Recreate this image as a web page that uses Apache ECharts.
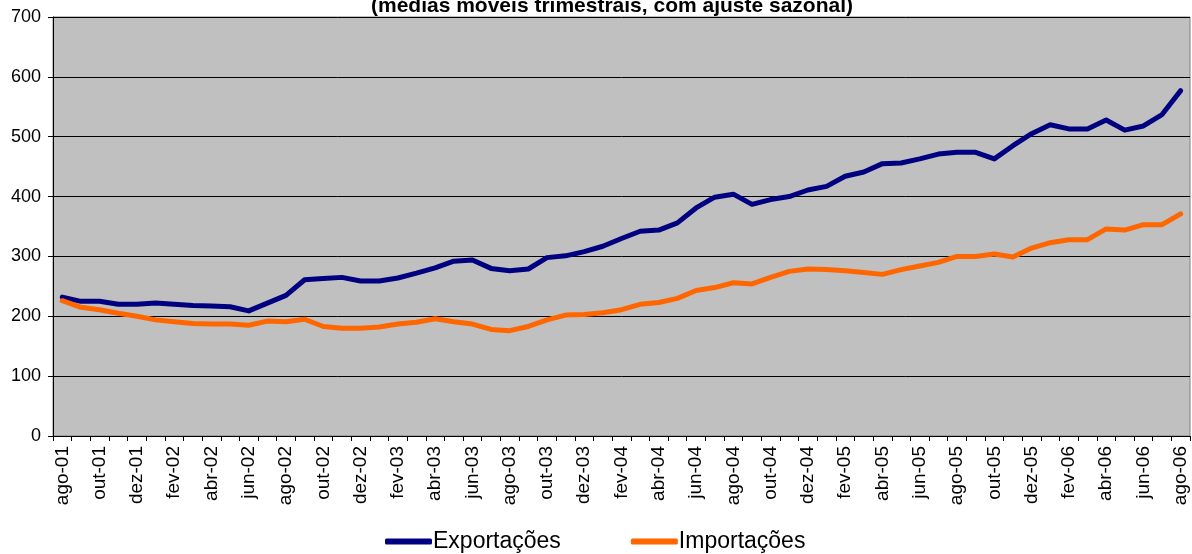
<!DOCTYPE html>
<html>
<head>
<meta charset="utf-8">
<script src="https://cdn.jsdelivr.net/npm/echarts@6/dist/echarts.min.js"></script>
<style>
  html, body { margin: 0; padding: 0; background: #fff; }
  #chart { width: 1192px; height: 554px; }
</style>
</head>
<body>
<div id="chart"></div>
<script>
// months ago-01 .. ago-06
const meses = ['jan', 'fev', 'mar', 'abr', 'mai', 'jun', 'jul', 'ago', 'set', 'out', 'nov', 'dez']
const categories = []
for (let k = 0; k < 61; k++) {
  const m = (7 + k) % 12
  const y = 1 + Math.floor((7 + k) / 12)
  categories.push(meses[m] + '-0' + y)
}

const exportacoes = [
  232, 225, 225, 220, 220, 222, 220, 218, 217, 216,
  209, 222, 235, 261, 263, 265, 259, 259, 264, 272,
  281, 292, 294, 280, 276, 279, 298, 301, 308, 317,
  330, 342, 344, 356, 381, 399, 404, 387, 395, 400,
  411, 417, 434, 441, 455, 456, 463, 471, 474, 474,
  463, 485, 505, 520, 513, 513, 528, 511, 518, 537,
  577
]

const importacoes = [
  226, 215, 211, 205, 200, 194, 191, 188, 187, 187,
  185, 192, 191, 195, 183, 180, 180, 182, 187, 190,
  196, 191, 187, 178, 176, 183, 194, 202, 203, 206,
  211, 220, 223, 230, 243, 248, 256, 254, 265, 275,
  279, 278, 276, 273, 270, 278, 284, 290, 300, 300,
  304, 299, 314, 323, 328, 328, 346, 344, 353, 353,
  371
]

const yTicks = { min: 0, max: 700, interval: 100 }

const chart = echarts.init(document.getElementById('chart'))

chart.setOption({
  animation: false,
  title: {
    text: '(médias móveis trimestrais, com ajuste sazonal)',
    left: 607,
    textAlign: 'center',
    top: -9,
    textStyle: {
      fontFamily: 'Liberation Sans, Arial, sans-serif',
      fontSize: 21,
      fontWeight: 'bold',
      color: '#000'
    }
  },
  legend: {
    bottom: -4,
    left: 380,
    itemWidth: 47,
    itemHeight: 6,
    itemGap: 70,
    icon: 'roundRect',
    textStyle: {
      fontFamily: 'Liberation Sans, Arial, sans-serif',
      fontSize: 23,
      color: '#000',
      padding: [0, 0, 0, -4]
    }
  },
  grid: {
    left: 53,
    right: 2,
    top: 17,
    bottom: 118,
    show: true,
    backgroundColor: '#C0C0C0',
    borderColor: '#808080',
    borderWidth: 1
  },
  xAxis: {
    type: 'category',
    data: categories,
    boundaryGap: true,
    axisLine: { lineStyle: { color: '#000', width: 1 } },
    axisTick: { show: true, interval: 0, length: 5, lineStyle: { color: '#000' } },
    axisLabel: {
      interval: 1,
      rotate: 90,
      margin: 10,
      fontFamily: 'Liberation Sans, Arial, sans-serif',
      fontSize: 19,
      color: '#000'
    },
    splitLine: { show: false }
  },
  yAxis: {
    type: 'value',
    min: yTicks.min,
    max: yTicks.max,
    interval: yTicks.interval,
    axisLine: { show: true, lineStyle: { color: '#000', width: 1 } },
    axisTick: { show: true, length: 5, lineStyle: { color: '#000' } },
    axisLabel: {
      margin: 12,
      fontFamily: 'Liberation Sans, Arial, sans-serif',
      fontSize: 18,
      color: '#000'
    },
    splitLine: { show: true, lineStyle: { color: '#000', width: 1 } }
  },
  series: [
    {
      name: 'Exportações',
      type: 'line',
      data: exportacoes,
      showSymbol: false,
      color: '#000080',
      lineStyle: { width: 5, color: '#000080', cap: 'round', join: 'round' }
    },
    {
      name: 'Importações',
      type: 'line',
      data: importacoes,
      showSymbol: false,
      color: '#FF6600',
      lineStyle: { width: 5, color: '#FF6600', cap: 'round', join: 'round' }
    }
  ]
})
</script>
</body>
</html>
